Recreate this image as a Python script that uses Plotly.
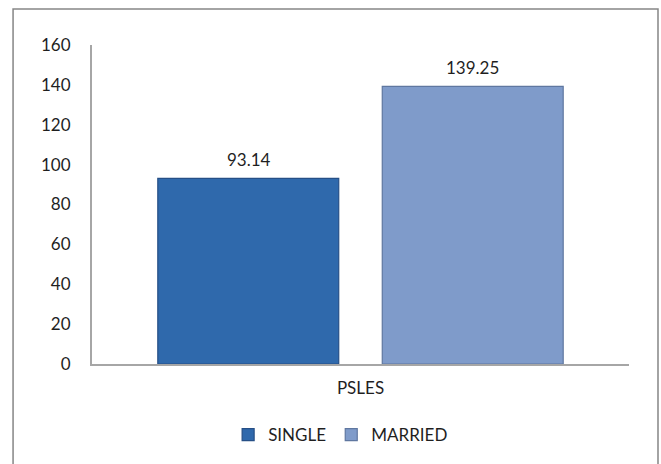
import plotly.graph_objects as go

categories = ["PSLES"]
series_names = ["SINGLE", "MARRIED"]
single_values = [93.14]
married_values = [139.25]
y_ticks = [0, 20, 40, 60, 80, 100, 120, 140, 160]

FONT = "Lato, 'Open Sans', sans-serif"
TXT = "#1f1f1f"

fig = go.Figure()
fig.add_trace(go.Bar(
    name=series_names[0], x=categories, y=single_values,
    marker=dict(color="#2F69AC", line=dict(color="#264F86", width=1.2)),
))
fig.add_trace(go.Bar(
    name=series_names[1], x=categories, y=married_values,
    marker=dict(color="#7F9BCA", line=dict(color="#5F77A0", width=1.2)),
))

annotations = []
for vals, xs in ((single_values, -112), (married_values, 112)):
    for c, v in zip(categories, vals):
        annotations.append(dict(x=c, y=v, xref="x", yref="y", text=f"{v:.2f}",
                                showarrow=False, xshift=xs, yshift=19, yanchor="middle",
                                font=dict(size=17, color=TXT, family=FONT)))

fig.update_layout(
    width=661, height=464,
    margin=dict(l=92, r=32, t=45, b=99),
    paper_bgcolor="white", plot_bgcolor="white",
    barmode="group", bargap=0.164, bargroupgap=0.194,
    font=dict(family=FONT, size=17, color=TXT),
    showlegend=True,
    legend=dict(orientation="h", x=0.463, xanchor="center", y=-0.219, yanchor="middle",
                font=dict(size=17, color=TXT, family=FONT), itemwidth=30,
                traceorder="normal"),
    xaxis=dict(showline=True, linecolor="#A6A6A6", linewidth=2, ticks="",
               showgrid=False, tickfont=dict(size=17, color=TXT), ticklabelstandoff=8),
    yaxis=dict(range=[0, 160], tickvals=y_ticks, showline=True, linecolor="#A6A6A6",
               linewidth=2, ticks="", showgrid=False, zeroline=False,
               tickfont=dict(size=17, color=TXT), ticklabelstandoff=16),
    annotations=annotations,
    shapes=[dict(type="rect", xref="paper", yref="paper",
                 x0=-0.147, x1=1.054, y0=-0.35, y1=1.1125,
                 line=dict(color="#868686", width=1.5), fillcolor="rgba(0,0,0,0)",
                 layer="below")],
)

fig.write_html("out.html")
